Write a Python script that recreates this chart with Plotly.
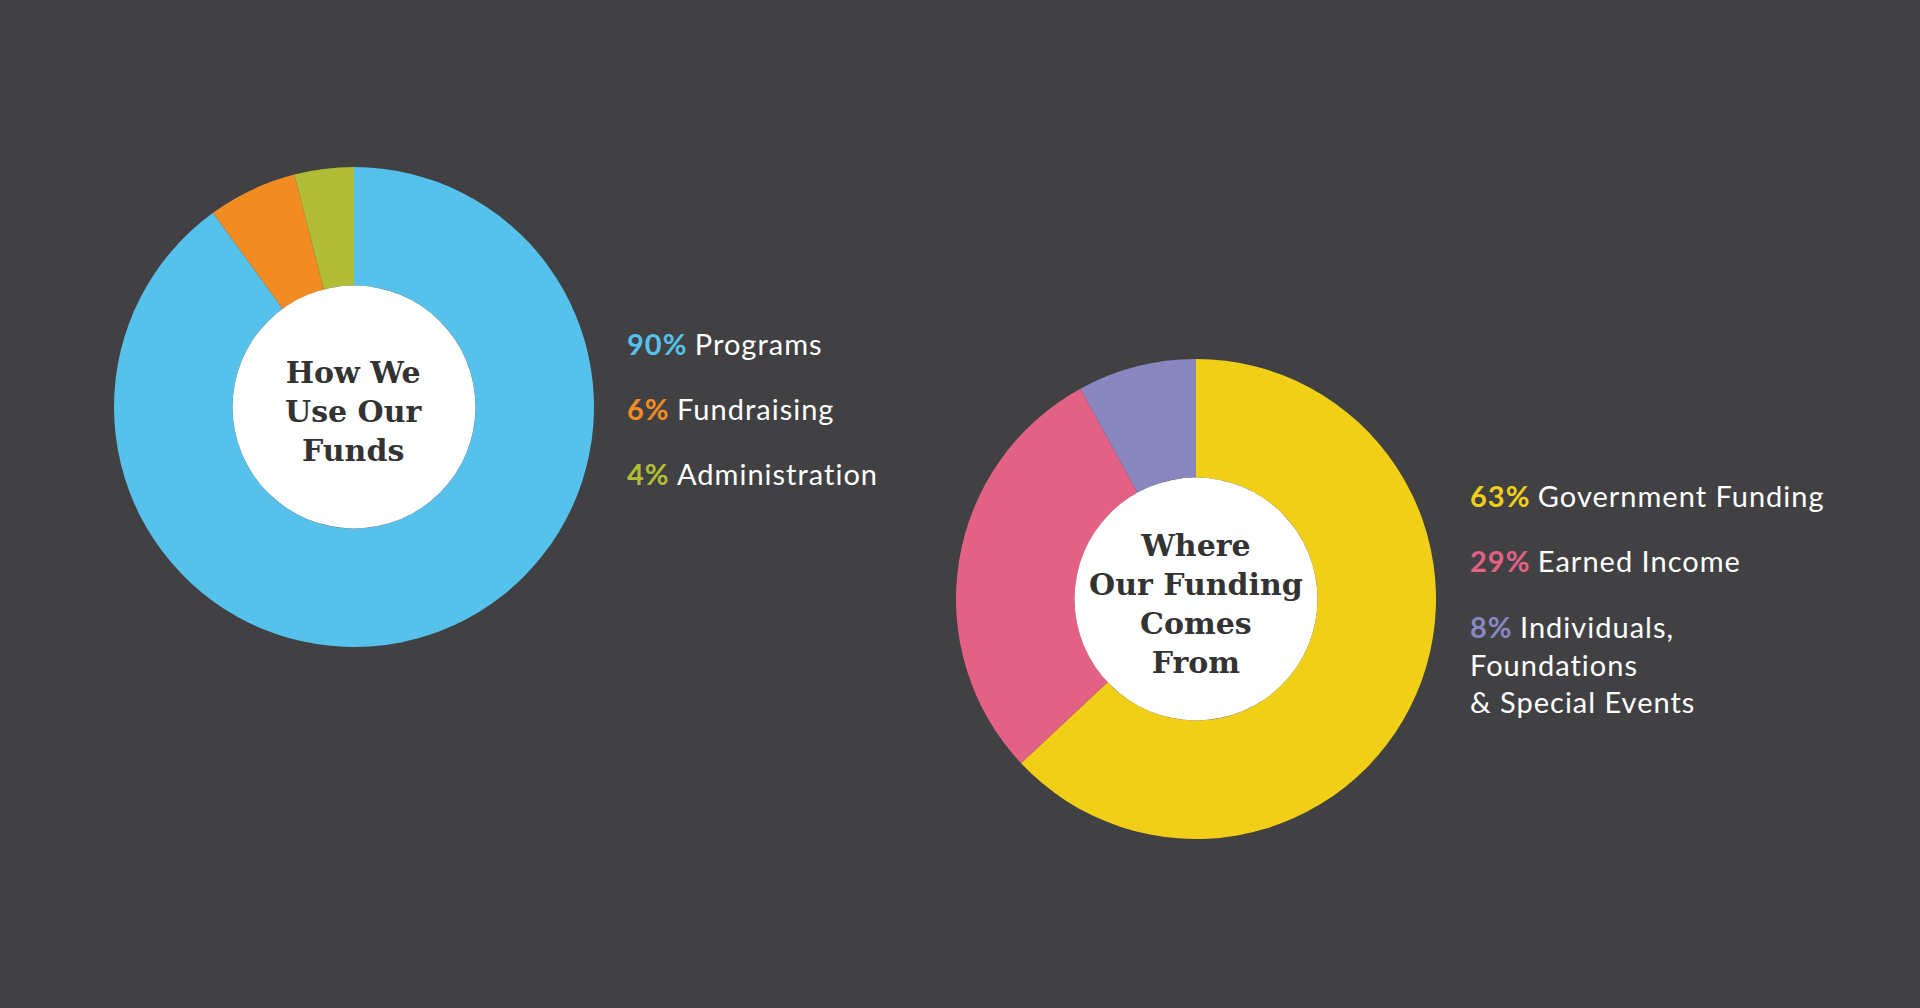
import plotly.graph_objects as go

W, H = 1920, 1008

use_labels = ["Programs", "Fundraising", "Administration"]
use_values = [90, 6, 4]
use_colors = ["#56C1EA", "#F28B22", "#B2BD37"]

src_labels = ["Government Funding", "Earned Income", "Individuals,<br>Foundations<br>& Special Events"]
src_values = [63, 29, 8]
src_colors = ["#F2CF17", "#E26185", "#8A87C0"]

BG = "#414143"
HOLE = 0.506

def dom(cx, cy, r):
    return dict(x=[(cx - r) / W, (cx + r) / W], y=[1 - (cy + r) / H, 1 - (cy - r) / H])

fig = go.Figure()
fig.add_trace(go.Pie(labels=use_labels, values=use_values, hole=HOLE, sort=False,
                     direction="clockwise", rotation=0,
                     marker=dict(colors=use_colors, line=dict(width=0)),
                     textinfo="none", hoverinfo="skip", domain=dom(354, 407, 240)))
fig.add_trace(go.Pie(labels=src_labels, values=src_values, hole=HOLE, sort=False,
                     direction="clockwise", rotation=0,
                     marker=dict(colors=src_colors, line=dict(width=0)),
                     textinfo="none", hoverinfo="skip", domain=dom(1196, 599, 240)))

shapes = []
for cx, cy in [(354, 407), (1196, 599)]:
    r = 240 * HOLE
    shapes.append(dict(type="circle", xref="paper", yref="paper", layer="above",
                       x0=(cx - r) / W, x1=(cx + r) / W,
                       y0=1 - (cy + r) / H, y1=1 - (cy - r) / H,
                       fillcolor="#FFFFFF", line=dict(width=0)))

ann = []
center_font = dict(family="DejaVu Serif", size=30, color="#333333")
ann.append(dict(x=354 / W, y=1 - 411 / H, xref="paper", yref="paper", showarrow=False,
                text="<b>How We<br>Use Our<br>Funds</b>", font=center_font,
                xanchor="center", yanchor="middle", align="center"))
ann.append(dict(x=1196 / W, y=1 - 604 / H, xref="paper", yref="paper", showarrow=False,
                text="<b>Where<br>Our Funding<br>Comes<br>From</b>", font=center_font,
                xanchor="center", yanchor="middle", align="center"))

leg_font = dict(family="Lato", size=29, color="#FFFFFF")
LS = "letter-spacing:1px"

def add_legend(x0, ys, labels, values, colors):
    for y, lab, v, c in zip(ys, labels, values, colors):
        parts = lab.split("<br>")
        body = "<br>".join(f"<span style='{LS}'>{p}</span>" for p in parts)
        ann.append(dict(x=x0 / W, y=1 - y / H, xref="paper", yref="paper", showarrow=False,
                        text=f"<b><span style='color:{c};{LS}'>{v}%</span></b> {body}",
                        font=leg_font, xanchor="left", yanchor="middle", align="left"))

add_legend(625, [343, 408, 473], use_labels, use_values, use_colors)
add_legend(1468, [495, 560, 664], src_labels, src_values, src_colors)

fig.update_layout(width=W, height=H, margin=dict(l=0, r=0, t=0, b=0),
                  paper_bgcolor=BG, plot_bgcolor=BG, showlegend=False,
                  annotations=ann, shapes=shapes)

fig.write_html("out.html")
